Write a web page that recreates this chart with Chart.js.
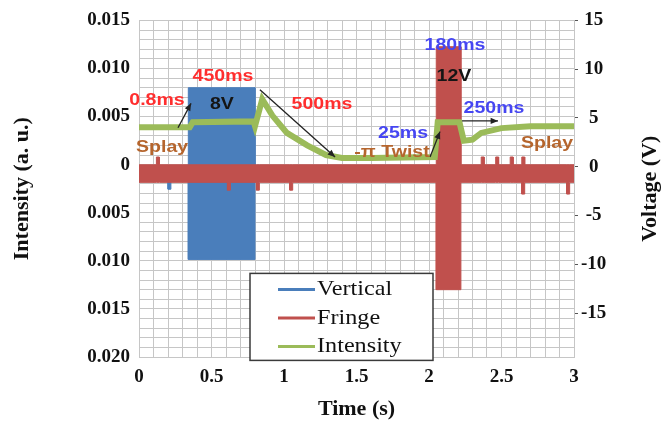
<!DOCTYPE html>
<html lang="en">
<head>
<meta charset="UTF-8">
<title>Intensity and voltage vs time</title>
<script src="https://cdn.jsdelivr.net/npm/chart.js@4.4.1/dist/chart.umd.min.js"></script>
<style>
  body { margin: 0; background: #fff; }
</style>
</head>
<body>
<canvas id="chart" width="667" height="423"></canvas>
<script>
// Intensity (a. u., left axis)
const intT = [0, 0.35, 0.37, 0.79, 0.80, 0.85, 0.92, 1.02, 1.16, 1.29, 1.40, 1.60, 2.04, 2.06, 2.21, 2.24, 2.30, 2.36, 2.50, 2.70, 3.00];
const intV = [0.0039, 0.0039, 0.0044, 0.0045, 0.0040, 0.0068, 0.0051, 0.0033, 0.0020, 0.0010, 0.0007, 0.0007, 0.0008, 0.0044, 0.0044, 0.0025, 0.0026, 0.0033, 0.0038, 0.0040, 0.0040];

// Fringe voltage (V, right axis) - upper and lower edge of the band
const fringeT  = [0, 0.12, 0.12, 0.14, 0.14, 0.61, 0.61, 0.63, 0.63, 0.81, 0.81, 0.83, 0.83, 1.04, 1.04, 1.06, 1.06, 2.05, 2.05, 2.22, 2.22, 2.36, 2.36, 2.38, 2.38, 2.46, 2.46, 2.48, 2.48, 2.56, 2.56, 2.58, 2.58, 2.64, 2.64, 2.66, 2.66, 2.95, 2.95, 2.97, 2.97, 3];
const fringeHi = [0.2, 0.2, 1.0, 1.0, 0.2, 0.2, 0.2, 0.2, 0.2, 0.2, 0.2, 0.2, 0.2, 0.2, 0.2, 0.2, 0.2, 0.2, 12.3, 12.3, 0.2, 0.2, 1.0, 1.0, 0.2, 0.2, 1.0, 1.0, 0.2, 0.2, 1.0, 1.0, 0.2, 0.2, 1.0, 1.0, 0.2, 0.2, 0.2, 0.2, 0.2, 0.2];
const fringeLo = [-1.6, -1.6, -1.6, -1.6, -1.6, -1.6, -2.4, -2.4, -1.6, -1.6, -2.4, -2.4, -1.6, -1.6, -2.4, -2.4, -1.6, -1.6, -12.6, -12.6, -1.6, -1.6, -1.6, -1.6, -1.6, -1.6, -1.6, -1.6, -1.6, -1.6, -1.6, -1.6, -1.6, -1.6, -2.8, -2.8, -1.6, -1.6, -2.8, -2.8, -1.6, -1.6];

// Vertical voltage (V, right axis)
const vertT  = [0, 0.20, 0.20, 0.22, 0.22, 0.34, 0.34, 0.80, 0.80, 3];
const vertHi = [0, 0, 0, 0, 0, 0, 8.1, 8.1, 0, 0];
const vertLo = [0, 0, -2.3, -2.3, 0, 0, -9.5, -9.5, 0, 0];

// labelled ticks
const xMajor = [0, 0.5, 1, 1.5, 2, 2.5, 3];
const leftMajor = [0.015, 0.010, 0.005, 0, -0.005, -0.010, -0.015, -0.020];
const rightMajor = [15, 10, 5, 0, -5, -10, -15];

const BLUE = '#4a7ebb', RED = '#c0504d', GREEN = '#9bbb59';
const GRID = '#c6c6c6';
const SERIF = '"Liberation Serif", "Times New Roman", serif';
const SANS = '"Liberation Sans", Arial, sans-serif';

// annotations (time, volts)
const notes = [
  { text: '0.8ms', t: 0.124, v: 6.8, c: '#ff2e2e' },
  { text: '450ms', t: 0.579, v: 9.2, c: '#ff2e2e' },
  { text: '8V', t: 0.572, v: 6.4, c: '#151515' },
  { text: '500ms', t: 1.262, v: 6.4, c: '#ff2e2e' },
  { text: '180ms', t: 2.179, v: 12.4, c: '#4646f2' },
  { text: '12V', t: 2.172, v: 9.2, c: '#151515' },
  { text: '250ms', t: 2.448, v: 6.0, c: '#4646f2' },
  { text: '25ms', t: 1.821, v: 3.4, c: '#4646f2' },
  { text: '-\u03c0 Twist', t: 1.745, v: 1.5, c: '#b5652d' },
  { text: 'Splay', t: 2.814, v: 2.4, c: '#b5652d' },
  { text: 'Splay', t: 0.159, v: 2.0, c: '#b5652d' }
];
const arrows = [
  [0.269, 4.0, 0.359, 6.5],
  [0.834, 7.9, 1.352, 1.0],
  [2.007, 1.0, 2.076, 3.6],
  [2.228, 4.7, 2.476, 4.7]
];

const pts = (ts, vs) => ts.map((t, i) => ({ x: t, y: vs[i] }));
const isMajor = (v, list) => list.some(m => Math.abs(m - v) < 1e-7);

const overlay = {
  id: 'overlay',
  afterDraw(chart) {
    const { ctx, chartArea: a, scales: { x, yV } } = chart;
    ctx.save();

    // arrows
    ctx.strokeStyle = '#222';
    ctx.fillStyle = '#222';
    ctx.lineWidth = 1.3;
    arrows.forEach(([t1, v1, t2, v2]) => {
      const x1 = x.getPixelForValue(t1), y1 = yV.getPixelForValue(v1);
      const x2 = x.getPixelForValue(t2), y2 = yV.getPixelForValue(v2);
      const ang = Math.atan2(y2 - y1, x2 - x1);
      ctx.beginPath();
      ctx.moveTo(x1, y1);
      ctx.lineTo(x2, y2);
      ctx.stroke();
      ctx.beginPath();
      ctx.moveTo(x2, y2);
      ctx.lineTo(x2 - 8 * Math.cos(ang - 0.4), y2 - 8 * Math.sin(ang - 0.4));
      ctx.lineTo(x2 - 8 * Math.cos(ang + 0.4), y2 - 8 * Math.sin(ang + 0.4));
      ctx.closePath();
      ctx.fill();
    });

    // text notes
    ctx.textAlign = 'center';
    ctx.textBaseline = 'middle';
    notes.forEach(n => {
      ctx.save();
      ctx.translate(x.getPixelForValue(n.t), yV.getPixelForValue(n.v));
      ctx.scale(1.22, 1);
      ctx.font = 'bold 16px ' + SANS;
      ctx.fillStyle = n.c;
      ctx.fillText(n.text, 0, 0);
      ctx.restore();
    });

    // legend box
    const lx = a.left + 111, ly = a.top + 253;
    ctx.fillStyle = '#fff';
    ctx.fillRect(lx, ly, 183, 87);
    ctx.strokeStyle = '#3a3a3a';
    ctx.lineWidth = 1.5;
    ctx.strokeRect(lx, ly, 183, 87);
    const items = [['Vertical', BLUE], ['Fringe', RED], ['Intensity', GREEN]];
    items.forEach(([label, col], i) => {
      const yy = ly + 16 + i * 28.5;
      ctx.strokeStyle = col;
      ctx.lineWidth = 3;
      ctx.beginPath();
      ctx.moveTo(lx + 28, yy);
      ctx.lineTo(lx + 65, yy);
      ctx.stroke();
      ctx.save();
      ctx.translate(lx + 67, yy);
      ctx.scale(1.1, 1);
      ctx.font = '22px ' + SERIF;
      ctx.fillStyle = '#111';
      ctx.textAlign = 'left';
      ctx.fillText(label, 0, 0);
      ctx.restore();
    });

    // right axis title, reading bottom to top
    ctx.save();
    ctx.translate(650, (a.top + a.bottom) / 2);
    ctx.rotate(-Math.PI / 2);
    ctx.font = 'bold 22px ' + SERIF;
    ctx.fillStyle = '#111';
    ctx.textAlign = 'center';
    ctx.fillText('Voltage (V)', 0, 0);
    ctx.restore();

    ctx.restore();
  }
};

const tickFont = { family: SERIF, size: 19, weight: 'bold' };
const titleFont = { family: SERIF, size: 22, weight: 'bold' };

new Chart(document.getElementById('chart').getContext('2d'), {
  type: 'line',
  data: {
    datasets: [
      { label: 'Intensity', data: pts(intT, intV), yAxisID: 'yI', borderColor: GREEN, borderWidth: 6, pointRadius: 0, fill: false, order: 0 },
      { label: 'Fringe', data: pts(fringeT, fringeHi), yAxisID: 'yV', borderColor: RED, backgroundColor: RED, borderWidth: 1, pointRadius: 0, fill: '+1', order: 1 },
      { label: 'Fringe (low)', data: pts(fringeT, fringeLo), yAxisID: 'yV', borderColor: RED, borderWidth: 1, pointRadius: 0, fill: false, order: 1 },
      { label: 'Vertical', data: pts(vertT, vertHi), yAxisID: 'yV', borderColor: BLUE, backgroundColor: BLUE, borderWidth: 1, pointRadius: 0, fill: '+1', order: 2 },
      { label: 'Vertical (low)', data: pts(vertT, vertLo), yAxisID: 'yV', borderColor: BLUE, borderWidth: 1, pointRadius: 0, fill: false, order: 2 }
    ]
  },
  options: {
    responsive: false,
    animation: false,
    devicePixelRatio: 1,
    layout: { padding: { top: 12, left: 0, right: 0, bottom: 0 } },
    plugins: { legend: { display: false }, tooltip: { enabled: false } },
    scales: {
      x: {
        type: 'linear', min: 0, max: 3,
        grid: { color: GRID, drawTicks: false },
        border: { color: GRID },
        ticks: {
          stepSize: 0.1, autoSkip: false, maxRotation: 0, padding: 9, font: tickFont, color: '#111',
          callback: v => isMajor(v, xMajor) ? String(Math.round(v * 10) / 10) : ''
        },
        title: { display: true, text: 'Time (s)', font: titleFont, color: '#111', padding: { top: 0, bottom: 0 } },
        afterFit(s) { s.height = 66; }
      },
      yI: {
        type: 'linear', position: 'left', min: -0.02, max: 0.015,
        grid: { color: GRID, drawTicks: false },
        border: { color: GRID },
        ticks: {
          stepSize: 0.001, autoSkip: false, padding: 9, font: tickFont, color: '#111',
          callback: v => {
            if (!isMajor(v, leftMajor)) return '';
            const k = Math.round(v * 1000);
            return k === 0 ? '0' : (Math.abs(k) / 1000).toFixed(3);
          }
        },
        title: { display: true, text: 'Intensity (a. u.)', font: titleFont, color: '#111', padding: { top: 9, bottom: 0 } },
        afterFit(s) { s.width = 139; }
      },
      yV: {
        type: 'linear', position: 'right', min: -19.5, max: 15,
        grid: { drawOnChartArea: false, drawTicks: true, tickLength: 4, tickColor: '#555' },
        border: { color: GRID },
        ticks: {
          stepSize: 5, includeBounds: false, autoSkip: false, padding: 3, crossAlign: 'center', font: tickFont, color: '#111',
          callback: v => isMajor(v, rightMajor) ? String(Math.round(v)) : ''
        },
        afterFit(s) { s.width = 93; }
      }
    }
  },
  plugins: [overlay]
});
</script>
</body>
</html>
